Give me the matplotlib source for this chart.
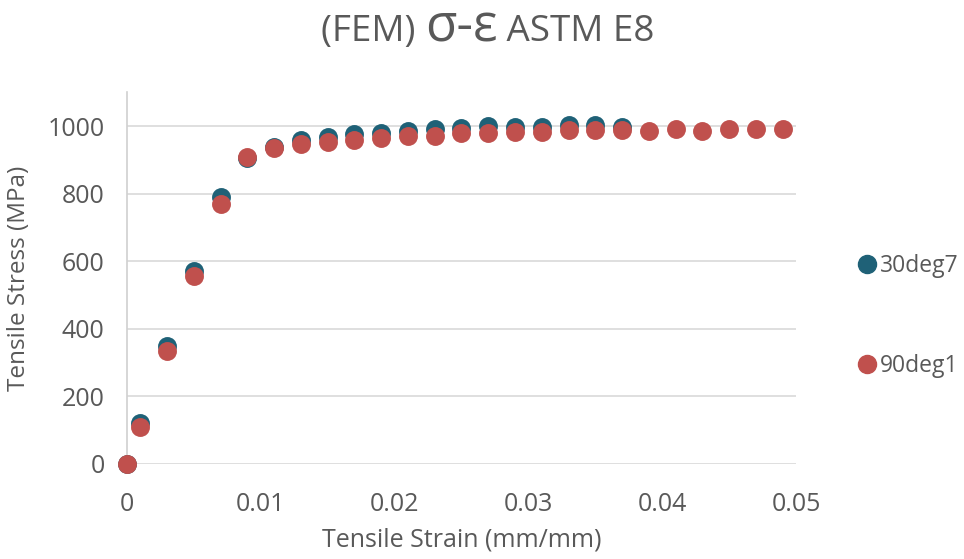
import matplotlib
matplotlib.use('Agg')
import matplotlib.pyplot as plt
from matplotlib.lines import Line2D

plt.rcParams['font.family'] = ['Open Sans', 'DejaVu Sans']

# ************************************************************************
# Data
# ************************************************************************
strain_30 = [0, 0.001, 0.003, 0.005, 0.007, 0.009, 0.011, 0.013, 0.015, 0.017,
             0.019, 0.021, 0.023, 0.025, 0.027, 0.029, 0.031, 0.033, 0.035, 0.037]
stress_30 = [0, 120, 349, 572, 789, 905, 938, 958, 968, 975,
             980, 985, 990, 995, 1000, 997, 997, 1003, 1003, 997]

strain_90 = [0, 0.001, 0.003, 0.005, 0.007, 0.009, 0.011, 0.013, 0.015, 0.017,
             0.019, 0.021, 0.023, 0.025, 0.027, 0.029, 0.031, 0.033, 0.035, 0.037,
             0.039, 0.041, 0.043, 0.045, 0.047, 0.049]
stress_90 = [0, 110, 334, 555, 769, 908, 936, 946, 953, 958,
             966, 971, 971, 978, 978, 982, 982, 987, 987, 987,
             985, 990, 985, 990, 990, 990]

x_ticks = [0, 0.01, 0.02, 0.03, 0.04, 0.05]
x_ticklabels = ['0', '0.01', '0.02', '0.03', '0.04', '0.05']
y_ticks = [0, 200, 400, 600, 800, 1000]

teal = '#1f6177'
red = '#c0504d'
grey = '#595959'

# ************************************************************************
# Plot
# ************************************************************************
fig = plt.figure(figsize=(9.64, 5.59), dpi=100)
ax = fig.add_axes([0.1317, 0.170, 0.6940, 0.665])

ax.scatter(strain_30, stress_30, s=185, color=teal, zorder=3, clip_on=False, linewidths=0)
ax.scatter(strain_90, stress_90, s=185, color=red, zorder=4, clip_on=False, linewidths=0)

ax.set_xlim(0, 0.05)
ax.set_ylim(0, 1100)
ax.set_xticks(x_ticks)
ax.set_xticklabels(x_ticklabels)
ax.set_yticks(y_ticks)
ax.grid(axis='y', color='#d9d9d9', linewidth=1.2, zorder=0)
ax.set_axisbelow(True)

for side in ['top', 'right', 'bottom']:
    ax.spines[side].set_visible(False)
ax.spines['left'].set_color('#d0d0d0')
ax.spines['left'].set_linewidth(1.2)
ax.tick_params(length=0, labelsize=18, labelcolor=grey)
ax.tick_params(axis='x', pad=20)
ax.tick_params(axis='y', pad=16)

ax.set_xlabel('Tensile Strain (mm/mm)', fontsize=18, color=grey, labelpad=8)
ax.set_ylabel('Tensile Stress (MPa)', fontsize=17.5, color=grey, labelpad=12)

# legend on the right
handles = [Line2D([], [], marker='o', linestyle='', markersize=13, color=teal),
           Line2D([], [], marker='o', linestyle='', markersize=13, color=red)]
leg = fig.legend(handles, ['30deg7', '90deg1'], loc='center left',
                 bbox_to_anchor=(0.888, 0.435), frameon=False, fontsize=16.5,
                 labelspacing=3.3, handletextpad=0.05, handlelength=1.0,
                 borderpad=0, borderaxespad=0)
for t in leg.get_texts():
    t.set_color(grey)

# title built from pieces so sigma-epsilon can be larger
pieces = [('(FEM) ', 26.5), ('σ-ε', 37), (' ASTM E8', 26.5)]
fig.canvas.draw()
renderer = fig.canvas.get_renderer()
texts = []
for s, size in pieces:
    texts.append(fig.text(0, 0, s, fontsize=size, color=grey, va='baseline'))
widths = [t.get_window_extent(renderer).width for t in texts]
x = (fig.bbox.width * 0.506 - sum(widths) / 2)
for t, w in zip(texts, widths):
    t.set_position((x / fig.bbox.width, 1 - 41 / 559))
    x += w

plt.savefig('out.png', dpi=100)
